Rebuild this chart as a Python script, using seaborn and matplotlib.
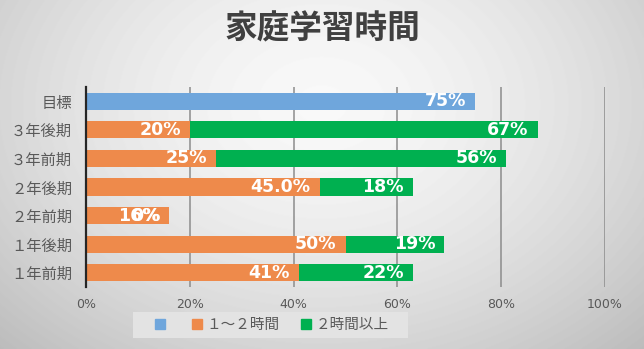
import numpy as np
import pandas as pd
import matplotlib
matplotlib.use("Agg")
import matplotlib.pyplot as plt
from matplotlib.lines import Line2D
from matplotlib.patches import Rectangle
from matplotlib.transforms import offset_copy
import seaborn as sns

# ---- data ----
categories = ['目標', '３年後期', '３年前期', '２年後期', '２年前期', '１年後期', '１年前期']
goal = [75, np.nan, np.nan, np.nan, np.nan, np.nan, np.nan]
one_two = [np.nan, 20, 25, 45.0, 16, 50, 41]
over_two = [np.nan, 67, 56, 18, 0, 19, 22]
goal_labels = ['75%', '', '', '', '', '', '']
one_two_labels = ['', '20%', '25%', '45.0%', '16%', '50%', '41%']
over_two_labels = ['', '67%', '56%', '18%', '0%', '19%', '22%']
series_names = ['', '１～２時間', '２時間以上']
xticks = [0, 20, 40, 60, 80, 100]
xtick_labels = ['0%', '20%', '40%', '60%', '80%', '100%']
title = '家庭学習時間'

C_BLUE = '#6FA6DC'
C_ORANGE = '#EE8A4B'
C_GREEN = '#00B050'

sns.set_theme(style='white')
plt.rcParams['font.family'] = ['Noto Sans CJK JP', 'DejaVu Sans']

df = pd.DataFrame({'cat': categories, 'goal': goal, 'one_two': one_two, 'over_two': over_two})
df['total'] = df['one_two'] + df['over_two']

fig = plt.figure(figsize=(6.44, 3.49), dpi=100)

# gradient background
bg = fig.add_axes([0, 0, 1, 1], zorder=-10)
yy, xx = np.mgrid[0:1:349j, 0:1:644j]
r = np.sqrt(((xx - 0.5) / 0.62) ** 2 + ((yy - 0.3) / 0.85) ** 2)
val = np.clip(0.975 - 0.19 * r ** 1.6, 0, 1)
bg.imshow(val, cmap='gray', vmin=0, vmax=1, aspect='auto', extent=[0, 1, 0, 1], origin='upper')
bg.set_xlim(0, 1)
bg.set_ylim(0, 1)
bg.set_axis_off()
# legend background box
bg.add_patch(Rectangle((133 / 644, 1 - 338 / 349), (408 - 133) / 644, 26 / 349,
                       facecolor='#e3e3e3', edgecolor='none', zorder=5))

ax = fig.add_axes([86 / 644, 1 - 287 / 349, (605 - 86) / 644, (287 - 87) / 349])
ax.set_facecolor('none')

bar_kw = dict(order=categories, orient='h', width=0.6, saturation=1, ax=ax,
              linewidth=0, edgecolor='none')
sns.barplot(data=df, y='cat', x='goal', color=C_BLUE, **bar_kw)
sns.barplot(data=df, y='cat', x='total', color=C_GREEN, **bar_kw)
sns.barplot(data=df, y='cat', x='one_two', color=C_ORANGE, **bar_kw)

ax.set_xlim(0, 100)
ax.set_xticks(xticks)
ax.set_xticklabels(xtick_labels, family='DejaVu Sans', fontsize=9, color='#595959')
ax.set_xlabel('')
ax.set_ylabel('')
ax.tick_params(axis='y', labelsize=11, labelcolor='#595959', length=0, pad=10)
ax.tick_params(axis='x', length=0, pad=8)
ax.xaxis.grid(True, color='#8c8c8c', linewidth=1.1)
ax.set_axisbelow(True)
for side in ['top', 'right', 'bottom']:
    ax.spines[side].set_visible(False)
ax.spines['left'].set_color('#262626')
ax.spines['left'].set_linewidth(1.6)

# data labels (inside end)
tr = offset_copy(ax.transData, fig=fig, x=-9, y=0, units='dots')
lab_kw = dict(transform=tr, ha='right', va='center', color='white', fontsize=12.5,
              fontweight='bold', family='DejaVu Sans')
for i, c in enumerate(categories):
    if goal_labels[i]:
        ax.text(goal[i], i, goal_labels[i], **lab_kw)
    if one_two_labels[i]:
        ax.text(one_two[i], i, one_two_labels[i], **lab_kw)
    if over_two_labels[i]:
        ax.text(one_two[i] + over_two[i], i, over_two_labels[i], **lab_kw)

fig.text(0.5, 1 - 29 / 349, title, ha='center', va='center', fontsize=23.5,
         fontweight='bold', color='#404040')

handles = [Line2D([], [], marker='s', linestyle='none', markersize=6.5, color=c)
           for c in (C_BLUE, C_ORANGE, C_GREEN)]
leg = fig.legend(handles, series_names, loc='center', bbox_to_anchor=(272 / 644, 1 - 325 / 349),
                 ncol=3, frameon=False, fontsize=10.5, handlelength=0.7, handletextpad=0.3,
                 columnspacing=1.5, borderpad=0.45)
for t in leg.get_texts():
    t.set_color('#595959')

fig.savefig('out.png', dpi=100)
